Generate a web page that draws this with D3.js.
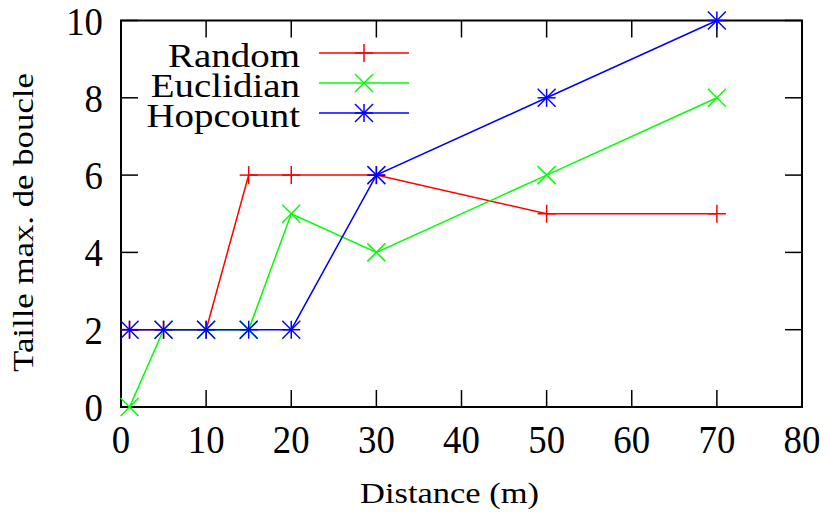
<!DOCTYPE html>
<html><head><meta charset="utf-8">
<script src="https://cdn.jsdelivr.net/npm/d3@7"></script>
<style>body{margin:0;background:#fff}svg{display:block}text{font-family:"Liberation Serif","DejaVu Serif",serif;fill:#000}</style>
</head><body>
<script>
const distances = [1, 5, 10, 15, 20, 30, 50, 70];
const randomVals = [2, 2, 2, 6, 6, 6, 5, 5];
const euclidianVals = [0, 2, 2, 2, 5, 4, 6, 8];
const hopcountVals = [2, 2, 2, 2, 2, 6, 8, 10];
const seriesNames = ["Random", "Euclidian", "Hopcount"];
const xTicks = [0, 10, 20, 30, 40, 50, 60, 70, 80];
const yTicks = [0, 2, 4, 6, 8, 10];

const W = 829, H = 513;
const m = {l: 121, r: 27, t: 20.5, b: 106};
const svg = d3.select("body").append("svg").attr("width", W).attr("height", H);
const x = d3.scaleLinear().domain([0, 80]).range([m.l, W - m.r]);
const y = d3.scaleLinear().domain([0, 10]).range([H - m.b, m.t]);

function stext(px, py, str, size, sx, anchor, rot) {
  return svg.append("text")
    .attr("transform", `translate(${px},${py})` + (rot ? ` rotate(${rot})` : "") + ` scale(${sx},1)`)
    .attr("text-anchor", anchor).attr("font-size", size).text(str);
}

const tl = 17;
const g = svg.append("g");
xTicks.forEach(t => {
  g.append("line").attr("x1", x(t)).attr("x2", x(t)).attr("y1", y(0)).attr("y2", y(0) - tl).attr("stroke", "#000").attr("stroke-width", 1.5);
  g.append("line").attr("x1", x(t)).attr("x2", x(t)).attr("y1", y(10)).attr("y2", y(10) + tl).attr("stroke", "#000").attr("stroke-width", 1.5);
  stext(x(t), y(0) + 45.5, t, 40, 0.92, "middle");
});
yTicks.forEach(t => {
  g.append("line").attr("x1", x(0)).attr("x2", x(0) + tl).attr("y1", y(t)).attr("y2", y(t)).attr("stroke", "#000").attr("stroke-width", 1.5);
  g.append("line").attr("x1", x(80)).attr("x2", x(80) - tl).attr("y1", y(t)).attr("y2", y(t)).attr("stroke", "#000").attr("stroke-width", 1.5);
  stext(103, y(t) + 14, t, 40, 0.92, "end");
});
g.append("rect").attr("x", x(0)).attr("y", y(10)).attr("width", x(80) - x(0)).attr("height", y(0) - y(10))
  .attr("fill", "none").attr("stroke", "#000").attr("stroke-width", 2);

stext(449.5, 503, "Distance (m)", 30, 1.15, "middle");
stext(33, 222.5, "Taille max. de boucle", 30, 1.16, "middle", -90);

const colors = ["#ff0000", "#00ff00", "#0000ff"];
const allVals = [randomVals, euclidianVals, hopcountVals];
const s = 9;
function marker(sel, type, cx, cy, col) {
  const p = [];
  if (type === 0 || type === 2) { p.push([cx - s, cy, cx + s, cy], [cx, cy - s, cx, cy + s]); }
  if (type === 1 || type === 2) { p.push([cx - s, cy - s, cx + s, cy + s], [cx - s, cy + s, cx + s, cy - s]); }
  p.forEach(q => sel.append("line").attr("x1", q[0]).attr("y1", q[1]).attr("x2", q[2]).attr("y2", q[3]).attr("stroke", col).attr("stroke-width", 1.5));
}
const line = d3.line().x(d => x(d[0])).y(d => y(d[1]));
allVals.forEach((vals, i) => {
  const data = distances.map((d, j) => [d, vals[j]]);
  const sg = svg.append("g");
  sg.append("path").datum(data).attr("d", line).attr("fill", "none").attr("stroke", colors[i]).attr("stroke-width", 1.5);
  data.forEach(d => marker(sg, i, x(d[0]), y(d[1]), colors[i]));
  const ly = 53 + i * 30;
  stext(300, ly + 14, seriesNames[i], 33, 1.18, "end");
  svg.append("line").attr("x1", 319).attr("x2", 409).attr("y1", ly).attr("y2", ly).attr("stroke", colors[i]).attr("stroke-width", 1.5);
  marker(svg, i, 364, ly, colors[i]);
});
</script>
</body></html>
